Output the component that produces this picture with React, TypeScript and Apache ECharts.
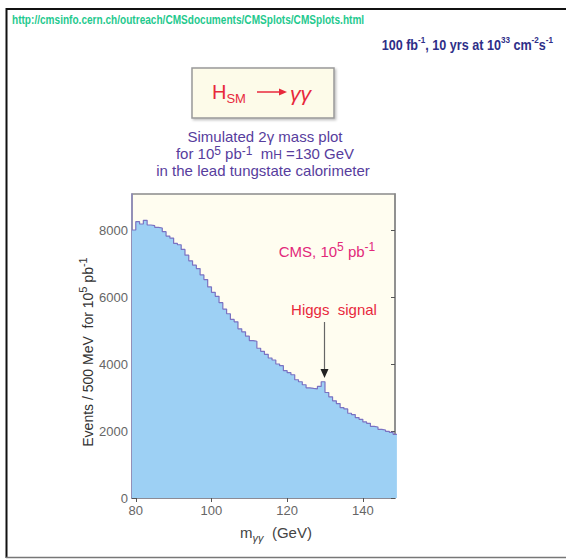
import React, { useEffect, useRef } from "react";
import * as echarts from "echarts";

// Histogram: 1 GeV bins starting at 79 GeV (events / 500 MeV)
const binStart = 79;
const binWidth = 1;
const counts = [
  8000, 8250, 8180, 8290, 8150, 8130, 8080, 8060, 7950, 7820,
  7760, 7600, 7560, 7420, 7250, 7080, 6950, 6850, 6660, 6520,
  6300, 6140, 6020, 5830, 5640, 5500, 5330, 5260, 5050, 4960,
  4830, 4700, 4680, 4470, 4380, 4290, 4180, 4120, 4000, 3950,
  3800, 3740, 3680, 3530, 3470, 3380, 3290, 3270, 3260, 3330,
  3470, 3150, 3020, 2900, 2820, 2700, 2660, 2530, 2490, 2400,
  2350, 2270, 2230, 2140, 2120, 2050, 2030, 1990, 1960, 1900,
];
const xTicks = [80, 100, 120, 140];
const yTicks = [0, 2000, 4000, 6000, 8000];
const xRange = [79, 148.5];
const yRange = [0, 9075];

const FONT = "'Liberation Sans', Arial, Helvetica, sans-serif";

export default function App() {
  const ref = useRef<HTMLDivElement>(null);
  useEffect(() => {
    if (!ref.current) return;
    const chart = echarts.init(ref.current, null, { renderer: "svg" });
    const data = counts.map((v, i) => [binStart + i * binWidth, v]);
    data.push([binStart + counts.length * binWidth, counts[counts.length - 1]]);

    const gray = "#8a8a8a";
    const tickLabel = {
      color: "#666",
      fontSize: 13,
      fontFamily: FONT,
      formatter: (v: number) => String(v),
    };
    const purple = "#573d9d";

    chart.setOption({
      animation: false,
      backgroundColor: "#ffffff",
      grid: {
        left: 132,
        top: 194,
        right: 171,
        bottom: 61,
        show: true,
        backgroundColor: "#fffdf0",
        borderColor: gray,
        borderWidth: 1.5,
      },
      xAxis: [
        {
          type: "value",
          min: xRange[0],
          max: xRange[1],
          position: "bottom",
          splitLine: { show: false },
          axisLine: { show: true, lineStyle: { color: "#8c88bc", width: 1.5 } },
          axisTick: {
            show: true,
            inside: true,
            length: 4,
            customValues: xTicks,
            lineStyle: { color: "#555" },
          },
          axisLabel: { ...tickLabel, margin: 6, customValues: xTicks },
        },
        {
          type: "value",
          min: xRange[0],
          max: xRange[1],
          position: "top",
          splitLine: { show: false },
          axisLine: { show: true, lineStyle: { color: gray, width: 1.5 } },
          axisTick: {
            show: true,
            inside: true,
            length: 4,
            customValues: xTicks,
            lineStyle: { color: "#555" },
          },
          axisLabel: { show: false },
        },
      ],
      yAxis: [
        {
          type: "value",
          min: yRange[0],
          max: yRange[1],
          position: "left",
          splitLine: { show: false },
          axisLine: { show: true, lineStyle: { color: "#8c88bc", width: 1.5 } },
          axisTick: {
            show: true,
            inside: true,
            length: 4,
            customValues: yTicks,
            lineStyle: { color: "#555" },
          },
          axisLabel: { ...tickLabel, margin: 4, customValues: yTicks },
        },
        {
          type: "value",
          min: yRange[0],
          max: yRange[1],
          position: "right",
          splitLine: { show: false },
          axisLine: { show: true, lineStyle: { color: gray, width: 1.5 } },
          axisTick: {
            show: true,
            inside: true,
            length: 4,
            customValues: yTicks,
            lineStyle: { color: "#555" },
          },
          axisLabel: { show: false },
        },
      ],
      series: [
        {
          type: "line",
          step: "end",
          data,
          symbol: "none",
          clip: true,
          lineStyle: { color: "#7a72c2", width: 1.2 },
          areaStyle: { color: "#9dd0f4", opacity: 1 },
          z: 1,
        },
      ],
      graphic: [
        // page frame
        { type: "line", shape: { x1: 6, y1: 9, x2: 566, y2: 9 }, style: { stroke: "#111", lineWidth: 2 }, z: 10 },
        { type: "line", shape: { x1: 6.5, y1: 8, x2: 6.5, y2: 558 }, style: { stroke: "#111", lineWidth: 2 }, z: 10 },
        { type: "line", shape: { x1: 6, y1: 557.5, x2: 566, y2: 557.5 }, style: { stroke: "#777", lineWidth: 1.5 }, z: 10 },
        // URL
        {
          type: "text",
          x: 12,
          y: 20,
          scaleX: 0.84,
          style: {
            text: "http://cmsinfo.cern.ch/outreach/CMSdocuments/CMSplots/CMSplots.html",
            fill: "#1fc98e",
            fontSize: 12,
            fontWeight: "bold",
            fontFamily: FONT,
            align: "left",
            verticalAlign: "middle",
          },
        },
        // luminosity
        {
          type: "text",
          x: 553,
          y: 44,
          scaleX: 0.9,
          style: {
            text: "{a|100 fb}{s|-1}{a|, 10 yrs at 10}{s|33}{a| cm}{s|-2}{a|s}{s|-1}",
            align: "right",
            verticalAlign: "middle",
            rich: {
              a: { fill: "#2e2e88", fontSize: 14, fontWeight: "bold", fontFamily: FONT, lineHeight: 17, verticalAlign: "bottom" },
              s: { fill: "#2e2e88", fontSize: 9, fontWeight: "bold", fontFamily: FONT, lineHeight: 17, verticalAlign: "top" },
            },
          },
        },
        // title box
        {
          type: "rect",
          shape: { x: 192, y: 68, width: 142, height: 50 },
          style: { fill: "#fdfbe9", stroke: "#999", lineWidth: 1.5, shadowColor: "rgba(0,0,0,0.25)", shadowOffsetX: 1.5, shadowOffsetY: 1.5, shadowBlur: 2 },
        },
        {
          type: "text",
          x: 212,
          y: 92,
          style: {
            text: "{h|H}{s|SM}",
            align: "left",
            verticalAlign: "middle",
            rich: {
              h: { fill: "#e8283c", fontSize: 20, fontFamily: FONT, lineHeight: 26, verticalAlign: "middle" },
              s: { fill: "#e8283c", fontSize: 13, fontFamily: FONT, lineHeight: 26, verticalAlign: "bottom" },
            },
          },
        },
        { type: "line", shape: { x1: 257, y1: 92, x2: 280, y2: 92 }, style: { stroke: "#e8283c", lineWidth: 1.5 } },
        { type: "polygon", shape: { points: [[279, 88.5], [287, 92], [279, 95.5]] }, style: { fill: "#e8283c" } },
        {
          type: "text",
          x: 290,
          y: 93,
          style: {
            text: "γγ",
            fill: "#e8283c",
            fontSize: 21,
            fontStyle: "italic",
            fontFamily: FONT,
            align: "left",
            verticalAlign: "middle",
          },
        },
        // subtitle
        {
          type: "text",
          x: 265,
          y: 136,
          style: {
            text: "Simulated 2γ mass plot",
            fill: purple,
            fontSize: 15,
            lineHeight: 15,
            fontFamily: FONT,
            align: "center",
            verticalAlign: "middle",
          },
        },
        {
          type: "text",
          x: 265,
          y: 153,
          style: {
            text: "{a|for 10}{s|5}{a| pb}{s|-1}{a|  m}{b|H}{a| =130 GeV}",
            align: "center",
            verticalAlign: "middle",
            rich: {
              a: { fill: purple, fontSize: 15, fontFamily: FONT, lineHeight: 16 },
              s: { fill: purple, fontSize: 12, fontFamily: FONT, lineHeight: 16, verticalAlign: "top" },
              b: { fill: purple, fontSize: 12, fontFamily: FONT, lineHeight: 16, verticalAlign: "bottom" },
            },
          },
        },
        {
          type: "text",
          x: 263,
          y: 170,
          style: {
            text: "in the lead tungstate calorimeter",
            fill: purple,
            fontSize: 15,
            lineHeight: 15,
            fontFamily: FONT,
            align: "center",
            verticalAlign: "middle",
          },
        },
        // in-plot labels
        {
          type: "text",
          x: 327,
          y: 250,
          z: 5,
          style: {
            text: "{a|CMS, 10}{s|5}{a| pb}{s|-1}",
            align: "center",
            verticalAlign: "middle",
            rich: {
              a: { fill: "#e2287a", fontSize: 15, fontFamily: FONT, lineHeight: 18, verticalAlign: "bottom" },
              s: { fill: "#e2287a", fontSize: 12, fontFamily: FONT, lineHeight: 18, verticalAlign: "top" },
            },
          },
        },
        {
          type: "text",
          x: 334,
          y: 309,
          z: 5,
          style: {
            text: "Higgs  signal",
            fill: "#e8283c",
            fontSize: 15,
            fontFamily: FONT,
            align: "center",
            verticalAlign: "middle",
          },
        },
        { type: "line", z: 5, shape: { x1: 324.5, y1: 322, x2: 324.5, y2: 372 }, style: { stroke: "#666", lineWidth: 1.2 } },
        { type: "polygon", z: 5, shape: { points: [[320.5, 369], [328.5, 369], [324.5, 378]] }, style: { fill: "#222" } },
        // axis titles
        {
          type: "text",
          x: 86,
          y: 352,
          rotation: Math.PI / 2,
          style: {
            text: "{a|Events / 500 MeV  for 10}{s|5}{a| pb}{s|-1}",
            align: "center",
            verticalAlign: "middle",
            rich: {
              a: { fill: "#333", fontSize: 14, fontFamily: FONT, lineHeight: 17, verticalAlign: "bottom" },
              s: { fill: "#333", fontSize: 11, fontFamily: FONT, lineHeight: 17, verticalAlign: "top" },
            },
          },
        },
        {
          type: "text",
          x: 276,
          y: 532,
          style: {
            text: "{a|m}{b|γγ}{a|  (GeV)}",
            align: "center",
            verticalAlign: "middle",
            rich: {
              a: { fill: "#444", fontSize: 15, fontFamily: FONT, lineHeight: 22, verticalAlign: "middle" },
              b: { fill: "#444", fontSize: 11, fontStyle: "italic", fontFamily: FONT, lineHeight: 22, verticalAlign: "bottom" },
            },
          },
        },
      ],
    });
    return () => chart.dispose();
  }, []);
  return (
    <div
      ref={ref}
      style={{ position: "fixed", left: 0, top: 0, width: 566, height: 559 }}
    />
  );
}
